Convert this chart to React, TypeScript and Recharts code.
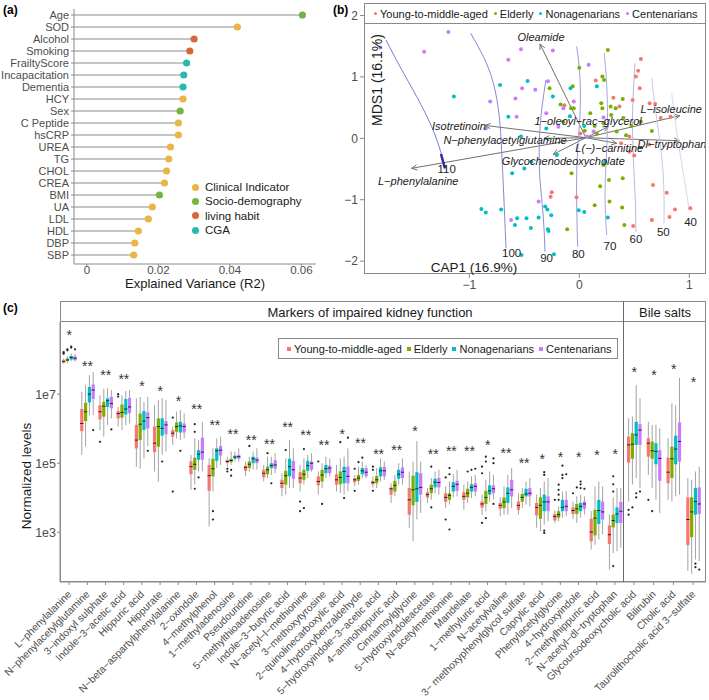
import React from 'react';
import { ComposedChart, ScatterChart, Scatter, Bar, XAxis, YAxis, ReferenceLine } from 'recharts';

const FONT = '"Liberation Sans", Arial, sans-serif';
const AXIS = '#8a8a8a';
const TICK = '#4d4d4d';

// ---------- (a) explained variance ----------
const factorNames = ['Age', 'SOD', 'Alcohol', 'Smoking', 'FrailtyScore', 'Incapacitation', 'Dementia', 'HCY', 'Sex', 'C Peptide', 'hsCRP', 'UREA', 'TG', 'CHOL', 'CREA', 'BMI', 'UA', 'LDL', 'HDL', 'DBP', 'SBP'];
const factorR2 = [0.0603, 0.0421, 0.03, 0.0288, 0.0279, 0.0271, 0.0269, 0.0269, 0.0261, 0.0256, 0.0256, 0.0234, 0.0229, 0.0223, 0.0217, 0.0203, 0.0183, 0.0172, 0.0144, 0.0134, 0.0131];
const factorTypes = ['Socio-demography', 'Clinical Indicator', 'living habit', 'living habit', 'CGA', 'CGA', 'CGA', 'Clinical Indicator', 'Socio-demography', 'Clinical Indicator', 'Clinical Indicator', 'Clinical Indicator', 'Clinical Indicator', 'Clinical Indicator', 'Clinical Indicator', 'Socio-demography', 'Clinical Indicator', 'Clinical Indicator', 'Clinical Indicator', 'Clinical Indicator', 'Clinical Indicator'];
const typeNames = ['Clinical Indicator', 'Socio-demography', 'living habit', 'CGA'];
const typeColors = ['#E8B547', '#73B443', '#D4683C', '#27BAB0'];
const R2_MIN = -0.0036;

// ---------- (b) CAP ordination ----------
const ageGroups = ['Young-to-middle-aged', 'Elderly', 'Nonagenarians', 'Centenarians'];
const groupColors = ['#F8766D', '#7CAE00', '#00BFC4', '#C77CFF'];

const mdsYoung = [[-0.135, 0.54], [0.15, 0.94], [0.31, 0.66], [0.365, 0.52], [0.485, 0.625], [0.55, 0.815], [0.535, 1.1], [0.515, 1.005], [0.56, 1.29], [0.64, 0.57], [0.69, 0.56], [0.74, 0.33], [0.83, 0.35], [0.455, 0.03], [0.455, -0.22], [0.5, -0.28], [0.635, -0.1], [0.67, -0.76], [-0.25, -0.88], [-0.26, -0.95], [-0.025, -0.96], [0.49, -1.43], [0.66, -1.33], [0.795, -0.885], [0.82, -1.28], [0.87, -1.16], [1.01, -1.14], [0.01, 0.08], [0.38, -0.08]];
const mdsElderly = [[0.26, 1.44], [0.0, 1.15], [-0.06, 0.85], [-0.27, 0.815], [-0.075, 0.49], [-0.05, 0.49], [0.1, 0.41], [0.21, 1.005], [0.225, 0.95], [0.2, 0.57], [0.21, 0.49], [0.285, 0.52], [0.33, 0.49], [0.395, 0.64], [0.29, 0.38], [0.4, 0.33], [0.22, 0.245], [0.14, 0.2], [0.05, 0.125], [0.16, 0.08], [0.34, 0.11], [0.425, 0.05], [0.475, 0.2], [0.66, 0.12], [0.56, 0.27], [-0.07, -0.57], [0.22, -0.435], [0.19, -0.78], [0.27, -0.68], [0.395, -0.65], [0.14, -1.09], [0.275, -1.03], [0.39, -1.125], [0.41, -1.41], [-0.11, -1.48], [-0.17, 0.55], [-0.145, 0.27]];
const mdsNonagenarian = [[-1.14, 0.68], [-0.72, 0.87], [-0.47, 0.935], [-0.645, 0.35], [-0.53, 0.03], [-0.24, 0.68], [-0.3, 0.16], [-0.08, 0.815], [-0.085, 0.36], [0.045, 0.2], [-0.205, -0.27], [-0.435, -0.38], [-0.61, -0.57], [-0.5, -0.49], [-0.89, -1.15], [-0.85, -1.21], [-0.71, -1.16], [-0.585, -1.41], [-0.565, -1.3], [-0.48, -1.3], [-0.44, -1.46], [-0.37, -1.29], [-0.31, -1.11], [-0.29, -1.16], [-0.285, -1.48], [-0.28, -1.51], [-0.255, -1.255], [-0.23, -1.89], [-0.525, -1.9], [-0.005, -1.17], [0.045, -1.2], [0.26, -1.29], [0.16, 0.85], [0.235, -0.38]];
const mdsCentenarian = [[-1.81, 1.48], [-1.19, 1.73], [-1.41, 1.41], [-0.645, 1.28], [-0.53, 1.45], [-0.24, 1.43], [0.085, 1.2], [-0.81, 0.6], [-0.58, 0.65], [-0.52, 0.815], [-0.4, 0.79], [-0.57, 0.35], [-0.285, 0.93], [-0.05, 0.6], [-0.3, 0.41], [-0.19, 0.19], [0.22, 0.34], [0.13, 0.11], [-0.85, 0.16], [0.07, 0.03], [-0.37, -1.03], [-0.62, -1.33], [-0.145, 0.49]];
const mdsGroups = [mdsYoung, mdsElderly, mdsNonagenarian, mdsCentenarian];

// age surface (ordisurf) isolines
const contourLevels = [110, 100, 90, 80, 70, 60, 50, 40];
const contourPaths = [
  [[-1.757, 1.603], [-1.63, 1.168], [-1.478, 0.679], [-1.342, 0.19], [-1.26, -0.217], [-1.221, -0.489]],
  [[-0.988, 1.712], [-0.872, 1.332], [-0.781, 0.897], [-0.727, 0.353], [-0.706, -0.19], [-0.69, -0.788], [-0.666, -1.793]],
  [[-0.303, 0.951], [-0.342, 0.462], [-0.363, -0.082], [-0.357, -0.679], [-0.327, -1.277], [-0.312, -1.848]],
  [[-0.024, 1.495], [0.006, 1.005], [0.006, 0.353], [-0.018, -0.299], [-0.024, -1.005], [-0.015, -1.766]],
  [[0.228, 1.386], [0.255, 0.625], [0.249, -0.19], [0.234, -0.897], [0.249, -1.576]],
  [[0.506, 1.223], [0.485, 0.462], [0.491, -0.299], [0.509, -1.005], [0.515, -1.522]],
  [[0.658, 0.978], [0.697, 0.408], [0.749, -0.299], [0.77, -0.897], [0.77, -1.386]],
  [[0.84, 0.734], [0.879, 0.19], [0.931, -0.408], [1.0, -1.168]],
];
const contourLabelAt = [[-1.205, -0.5], [-0.615, -1.87], [-0.297, -1.957], [-0.009, -1.886], [0.279, -1.755], [0.515, -1.647], [0.764, -1.522], [1.012, -1.359]];
const contourColors = ['#7b7bd4', '#8585d6', '#8f8fd8', '#9b9bdb', '#a9a9df', '#b7b7e3', '#c7c7e8', '#d7d7ee'];
const contourMark = [[-1.257, -0.255], [-1.221, -0.489]];

// fitted metabolite vectors
const loadingNames = ['Oleamide', 'L−isoleucine', 'Dl−tryptophan', 'Isotretinoin', 'N−phenylacetylglutamine', '1−oleoyl−rac−glycerol', 'L(−)−carnitine', 'Glycochenodeoxycholate', 'L−phenylalanine'];
const loadingTips = [[-0.357, 1.536], [0.913, 0.368], [0.909, -0.039], [-0.857, 0.21], [-0.32, 0.0], [0.264, 0.189], [0.34, -0.081], [-0.236, -0.261], [-1.524, -0.489]];
const loadingLabelAt = [[-0.348, 1.645], [0.836, 0.477], [0.843, -0.098], [-1.094, 0.2], [-0.675, -0.028], [0.08, 0.28], [0.273, -0.158], [-0.145, -0.365], [-1.464, -0.69]];
const ORIGIN = [0.06, 0.01];

// ---------- (c) boxplots, log10 of normalized level: [lo, q1, median, q3, hi] ----------
const kidneyMetabolites = ['L−phenylalanine', 'N−phenylacetylglutamine', '3−indoxyl sulphate', 'Indole−3−acetic acid', 'Hippuric acid', 'Hippurate', 'N−beta−aspartylphenylalanine', '2−oxindole', '4−methylphenol', '1−methyladenosine', 'Pseudouridine', '5−methylthioadenosine', 'Indole−3−butyric acid', 'N−acetyl−l−methionine', '3−methoxytyrosine', '2−quinolinecarboxylic acid', '4−hydroxybenzaldehyde', '5−hydroxyindole−3−acetic acid', '4−aminohippuric acid', 'Cinnamoylglycine', '5−hydroxyindoleacetate', 'N−acetylmethionine', 'Mandelate', '1−methyluric acid', 'N−acetylvaline', '3− methoxyphenylglycol sulfate', 'Caprylic acid', 'Phenylacetylglycine', '4−hydroxyindole', '2−methylhippuric acid', 'N−acetyl−dl−tryptophan'];
const kidneyBoxes = [
  [[7.88, 7.91, 7.95, 7.98, 8.03], [7.9, 7.96, 7.99, 8.03, 8.1], [7.96, 8.0, 8.06, 8.11, 8.18], [7.95, 7.98, 8.04, 8.1, 8.16]],
  [[5.24, 5.93, 6.15, 6.57, 7.07], [5.48, 6.22, 6.49, 6.75, 7.26], [6.39, 6.76, 7.0, 7.21, 7.55], [6.39, 6.86, 7.12, 7.28, 7.64]],
  [[5.95, 6.27, 6.49, 6.68, 6.97], [5.77, 6.35, 6.65, 6.78, 7.16], [6.1, 6.63, 6.81, 6.88, 7.18], [6.3, 6.59, 6.73, 6.92, 7.12]],
  [[6.06, 6.3, 6.44, 6.51, 6.63], [5.96, 6.32, 6.47, 6.7, 6.97], [6.1, 6.41, 6.57, 6.86, 7.09], [6.15, 6.45, 6.63, 6.89, 7.12]],
  [[4.9, 5.43, 5.67, 6.11, 6.88], [4.84, 5.67, 6.13, 6.44, 6.92], [5.14, 5.96, 6.22, 6.51, 6.78], [5.5, 6.01, 6.32, 6.47, 6.92]],
  [[4.76, 5.32, 5.58, 6.06, 6.68], [4.47, 5.48, 6.06, 6.3, 6.83], [5.24, 5.8, 6.01, 6.3, 6.88], [5.34, 5.84, 6.11, 6.22, 6.83]],
  [[5.53, 5.77, 5.87, 5.96, 6.06], [5.72, 5.91, 6.06, 6.18, 6.49], [5.67, 5.89, 6.08, 6.2, 6.54], [5.72, 5.89, 6.06, 6.15, 6.44]],
  [[4.23, 4.68, 4.9, 5.05, 5.24], [4.38, 4.81, 4.97, 5.16, 5.72], [4.76, 5.1, 5.26, 5.38, 5.67], [4.76, 5.1, 5.32, 5.74, 6.2]],
  [[3.17, 4.2, 4.64, 4.95, 5.14], [4.18, 4.62, 4.84, 5.13, 5.43], [4.86, 5.07, 5.36, 5.43, 5.72], [4.95, 5.22, 5.38, 5.5, 5.77]],
  [[4.9, 5.01, 5.05, 5.09, 5.19], [4.95, 5.03, 5.08, 5.13, 5.34], [5.05, 5.13, 5.18, 5.22, 5.34], [5.05, 5.13, 5.19, 5.24, 5.43]],
  [[4.62, 4.78, 4.88, 4.93, 5.05], [4.76, 4.86, 4.97, 5.05, 5.19], [4.81, 5.0, 5.13, 5.19, 5.34], [4.81, 5.0, 5.09, 5.16, 5.43]],
  [[4.47, 4.59, 4.71, 4.81, 4.95], [4.57, 4.68, 4.81, 4.9, 5.19], [4.66, 4.86, 4.93, 5.0, 5.19], [4.71, 4.84, 4.95, 5.08, 5.29]],
  [[4.04, 4.28, 4.42, 4.52, 4.71], [4.09, 4.38, 4.64, 4.78, 5.14], [4.28, 4.62, 4.9, 5.13, 5.67], [4.28, 4.55, 4.81, 5.07, 5.43]],
  [[4.18, 4.42, 4.57, 4.74, 4.95], [4.38, 4.52, 4.68, 4.81, 5.14], [4.57, 4.78, 4.93, 5.07, 5.24], [4.76, 4.81, 5.0, 5.05, 5.29]],
  [[4.09, 4.36, 4.47, 4.62, 4.76], [4.28, 4.47, 4.66, 4.81, 5.0], [4.57, 4.71, 4.84, 4.95, 5.19], [4.62, 4.71, 4.86, 4.93, 5.14]],
  [[4.18, 4.38, 4.52, 4.68, 4.95], [4.13, 4.39, 4.59, 4.76, 5.14], [4.09, 4.42, 4.76, 4.9, 5.19], [4.18, 4.42, 4.62, 4.9, 5.43]],
  [[4.33, 4.45, 4.52, 4.57, 4.66], [4.38, 4.49, 4.57, 4.66, 4.9], [4.57, 4.68, 4.78, 4.86, 5.05], [4.57, 4.62, 4.74, 4.86, 4.95]],
  [[4.3, 4.39, 4.44, 4.49, 4.62], [4.28, 4.42, 4.52, 4.63, 4.86], [4.47, 4.62, 4.78, 4.88, 5.14], [4.52, 4.62, 4.78, 4.9, 5.05]],
  [[3.85, 4.09, 4.26, 4.3, 4.42], [4.04, 4.18, 4.36, 4.49, 4.66], [4.38, 4.55, 4.68, 4.81, 5.0], [4.38, 4.57, 4.74, 4.88, 5.14]],
  [[3.13, 3.51, 3.94, 4.28, 4.76], [2.74, 3.78, 4.23, 4.64, 5.05], [3.37, 3.88, 4.26, 4.74, 5.64], [3.56, 4.09, 4.3, 4.71, 5.05]],
  [[3.85, 4.01, 4.09, 4.16, 4.28], [3.94, 4.13, 4.26, 4.38, 4.57], [4.13, 4.3, 4.45, 4.55, 4.76], [4.09, 4.3, 4.44, 4.57, 4.81]],
  [[3.7, 3.88, 4.01, 4.13, 4.33], [3.8, 3.94, 4.07, 4.13, 4.47], [4.01, 4.18, 4.33, 4.45, 4.68], [4.04, 4.2, 4.39, 4.49, 4.81]],
  [[3.65, 3.94, 4.04, 4.16, 4.38], [3.85, 4.01, 4.13, 4.26, 4.47], [3.99, 4.18, 4.3, 4.39, 4.62], [4.04, 4.18, 4.33, 4.42, 4.66]],
  [[3.51, 3.72, 3.82, 3.89, 4.09], [3.61, 3.82, 4.01, 4.2, 4.52], [3.89, 4.09, 4.2, 4.36, 4.76], [3.95, 4.13, 4.26, 4.36, 4.66]],
  [[3.46, 3.68, 3.78, 3.85, 4.01], [3.51, 3.7, 3.88, 4.01, 4.33], [3.51, 3.85, 4.13, 4.3, 4.66], [3.7, 4.04, 4.23, 4.52, 4.86]],
  [[3.51, 3.65, 3.78, 3.89, 4.13], [3.7, 3.88, 4.01, 4.11, 4.28], [3.8, 4.04, 4.11, 4.26, 4.47], [3.75, 4.04, 4.13, 4.28, 4.57]],
  [[3.13, 3.49, 3.72, 3.85, 4.09], [3.03, 3.39, 3.78, 4.01, 4.28], [3.22, 3.61, 3.88, 4.09, 4.47], [3.32, 3.61, 3.88, 4.04, 4.57]],
  [[3.27, 3.34, 3.46, 3.53, 3.63], [3.32, 3.42, 3.51, 3.61, 3.75], [3.42, 3.61, 3.72, 3.94, 4.18], [3.46, 3.61, 3.75, 3.94, 4.2]],
  [[3.39, 3.53, 3.63, 3.72, 3.89], [3.27, 3.53, 3.68, 3.82, 4.04], [3.42, 3.61, 3.75, 3.85, 4.09], [3.51, 3.68, 3.82, 3.89, 4.04]],
  [[2.5, 2.74, 3.01, 3.39, 3.61], [2.64, 2.91, 3.41, 3.65, 4.33], [2.79, 3.24, 3.63, 3.94, 4.47], [2.94, 3.37, 3.59, 3.89, 4.33]],
  [[1.92, 2.66, 2.93, 3.2, 3.51], [2.4, 3.14, 3.34, 3.51, 4.01], [2.45, 3.27, 3.53, 3.72, 4.28], [2.55, 3.27, 3.61, 3.88, 4.28]],
];
const kidneyOutliers = [
  [[8.17, 8.2, 8.22], [8.27, 8.3], [8.35, 8.38], [8.3]],
  [[], [], [], [5.96]],
  [[5.62], [], [], [5.98]],
  [[6.93, 7.0], [], [], []],
  [[], [], [], [5.36]],
  [[], [], [5.05], []],
  [[6.32, 4.18], [], [5.36], []],
  [[], [6.13, 5.91, 4.26], [4.59], []],
  [[], [3.61, 3.37], [], []],
  [[4.84, 4.76], [4.81, 4.64], [], []],
  [[], [5.5], [], []],
  [[], [5.29], [4.42], []],
  [[], [5.38], [], []],
  [[3.89, 3.61], [3.7, 5.41], [], []],
  [[5.05], [3.82], [], []],
  [[], [5.61], [3.99], [5.74]],
  [[4.84, 4.2], [5.03], [5.16], []],
  [[4.9, 4.81, 4.2], [], [], []],
  [[], [], [], []],
  [[], [], [], []],
  [[], [4.9, 3.72], [], []],
  [[4.59, 3.37], [4.86, 4.68, 3.08], [], []],
  [[], [4.76], [4.81], [4.84]],
  [[4.9, 4.71, 3.27], [5.19, 5.05, 3.41], [], [5.14, 5.0, 3.82]],
  [[], [], [], []],
  [[], [], [], []],
  [[], [], [4.74, 4.66, 3.05, 2.98], []],
  [[3.94], [3.94, 4.09, 4.23, 4.38], [4.66, 4.57, 4.93], [4.68]],
  [[4.13], [4.3], [4.47, 4.39, 4.28], [4.26]],
  [[], [], [], []],
  [[], [4.62, 4.39, 4.18, 2.02], [], []],
];
const kidneyStars = ['*', '**', '**', '**', '*', '*', '*', '**', '**', '**', '**', '**', '**', '**', '**', '*', '**', '**', '**', '*', '**', '**', '**', '*', '**', '**', '*', '*', '*', '*', '*'];
const kidneyStarLevel = [8.8, 7.91, 7.64, 7.52, 7.33, 7.18, 6.89, 6.66, 6.18, 5.94, 5.77, 5.64, 6.15, 5.91, 5.61, 5.93, 5.66, 5.36, 5.48, 6.01, 5.34, 5.45, 5.43, 5.61, 5.38, 5.1, 5.22, 5.26, 5.26, 5.32, 5.34];

const bileMetabolites = ['Glycoursodeoxycholic acid', 'Bilirubin', 'Cholic acid', 'Taurolithocholic acid 3−sulfate'];
const bileBoxes = [
  [[3.89, 5.02, 5.53, 5.77, 6.3], [4.38, 5.13, 5.55, 5.87, 6.35], [4.57, 5.53, 5.82, 6.2, 7.26], [4.28, 5.53, 5.96, 6.13, 6.88]],
  [[4.66, 5.19, 5.58, 5.72, 6.2], [4.28, 5.13, 5.36, 5.63, 6.11], [3.94, 4.97, 5.34, 5.58, 6.11], [3.56, 4.49, 5.14, 5.38, 6.01]],
  [[3.94, 4.42, 4.74, 5.16, 5.72], [3.89, 4.57, 5.13, 5.48, 6.73], [4.04, 4.97, 5.41, 5.8, 6.68], [4.09, 5.05, 5.63, 6.18, 7.47]],
  [[1.88, 2.63, 3.37, 4.01, 4.57], [1.8, 2.86, 3.59, 4.01, 4.52], [2.21, 3.51, 3.89, 4.28, 4.76], [2.16, 3.53, 3.82, 4.3, 4.9]],
];
const bileOutliers = [
  [[3.65, 3.51], [3.72], [4.13, 4.01], [4.18]],
  [[3.94], [3.61], [], []],
  [[], [], [], []],
  [[], [], [2.09, 1.99], [1.92]],
];
const bileStars = ['*', '*', '*', '*'];
const bileStarLevel = [7.74, 7.64, 7.82, 7.45];

const LOG_DOMAIN = [1.56, 9.09];
const BAR_W = 3.2;
const BAR_GAP = 0.6;
const GROUP_W = 4 * BAR_W + 3 * BAR_GAP;

const lolliData = factorNames.map((name, i) => ({ name, span: [R2_MIN, factorR2[i]], type: factorTypes[i] }));
const toPts = (arr: number[][]) => arr.map(([x, y]) => ({ x, y }));
const arrowLabelData = loadingNames.map((label, i) => ({ x: loadingLabelAt[i][0], y: loadingLabelAt[i][1], label }));
const contourLabelData = contourLevels.map((lv, i) => ({ x: contourLabelAt[i][0], y: contourLabelAt[i][1], label: String(lv) }));

const buildRows = (names: string[], boxes: number[][][], outs: number[][][], stars: string[], levels: number[]) =>
  names.map((name, i) => ({
    name,
    boxes: boxes[i],
    outliers: outs[i],
    star: stars[i],
    starLevel: levels[i],
    b0: [boxes[i][0][0], boxes[i][0][4]],
    b1: [boxes[i][1][0], boxes[i][1][4]],
    b2: [boxes[i][2][0], boxes[i][2][4]],
    b3: [boxes[i][3][0], boxes[i][3][4]],
  }));
const kidneyRows = buildRows(kidneyMetabolites, kidneyBoxes, kidneyOutliers, kidneyStars, kidneyStarLevel);
const bileRows = buildRows(bileMetabolites, bileBoxes, bileOutliers, bileStars, bileStarLevel);

const Lollipop = (p: any) => {
  const { x, y, width, height, payload } = p;
  const cy = y + height / 2;
  const color = typeColors[typeNames.indexOf(payload.type)];
  return (
    <g>
      <line x1={x} x2={x + width} y1={cy} y2={cy} stroke="#8c8c8c" strokeWidth={1} />
      <circle cx={x + width} cy={cy} r={3.6} fill={color} />
    </g>
  );
};

const Arrow = (p: any) => {
  const { x1, y1, x2, y2 } = p;
  const ang = Math.atan2(y2 - y1, x2 - x1);
  const L = 6;
  const w = 0.45;
  const ax = x2 - L * Math.cos(ang - w);
  const ay = y2 - L * Math.sin(ang - w);
  const bx = x2 - L * Math.cos(ang + w);
  const by = y2 - L * Math.sin(ang + w);
  return (
    <g>
      <line x1={x1} y1={y1} x2={x2} y2={y2} stroke="#707070" strokeWidth={1} />
      <polyline points={`${ax},${ay} ${x2},${y2} ${bx},${by}`} fill="none" stroke="#707070" strokeWidth={1} />
    </g>
  );
};

const makeBox = (gi: number) => (p: any) => {
  const { x, y, width, height, payload } = p;
  if (!payload || !payload.boxes) return <g />;
  const [lo, q1, med, q3, hi] = payload.boxes[gi];
  const top = Math.min(y, y + height);
  const h = Math.abs(height);
  const py = (v: number) => top + ((hi - v) / (hi - lo)) * h;
  const cx = x + width / 2;
  return (
    <g>
      <line x1={cx} x2={cx} y1={py(hi)} y2={py(lo)} stroke="#a3a3a3" strokeWidth={1} />
      <rect x={x} y={py(q3)} width={width} height={Math.max(py(q1) - py(q3), 1)} fill={groupColors[gi]} />
      <line x1={x} x2={x + width} y1={py(med)} y2={py(med)} stroke="#222" strokeWidth={1} />
      {payload.outliers[gi].map((v: number, k: number) => (
        <circle key={k} cx={cx} cy={py(v)} r={1.1} fill="#222" />
      ))}
      {gi === 0 && (
        <text x={x + GROUP_W / 2} y={py(payload.starLevel) + 8} textAnchor="middle" fontSize={14} fill="#333" fontFamily={FONT}>
          {payload.star}
        </text>
      )}
    </g>
  );
};

const SlantTick = (p: any) => {
  const { x, y, payload } = p;
  const ax = x + 3;
  const ay = y + 8;
  return (
    <text x={ax} y={ay} transform={`rotate(-45 ${ax} ${ay})`} textAnchor="end" fontSize={10.3} fill={TICK} fontFamily={FONT}>
      {payload.value}
    </text>
  );
};

const minusFmt = (v: number) => (v < 0 ? `−${-v}` : `${v}`);

const abs = (left: number, top: number, extra: React.CSSProperties = {}): React.CSSProperties => ({ position: 'absolute', left, top, ...extra });

const BoxPanel = ({ rows, width, left, marginLeft, marginRight, showY, padRight }: any) => (
  <div style={abs(left, 300)}>
    <ComposedChart width={width} height={400} data={rows} margin={{ top: 22, right: marginRight, bottom: 0, left: marginLeft }} barGap={BAR_GAP} barCategoryGap={0}>
      <XAxis dataKey="name" type="category" interval={0} height={118} tick={<SlantTick />} stroke={AXIS} tickSize={3} padding={{ left: 0, right: padRight }} />
      <YAxis
        type="number"
        domain={LOG_DOMAIN}
        ticks={[3, 5, 7]}
        allowDataOverflow
        hide={!showY}
        width={60}
        tickFormatter={(v: number) => `1e${v}`}
        stroke={AXIS}
        tickSize={3}
        tickMargin={1}
        tick={{ fill: TICK, fontSize: 12.5, fontFamily: FONT }}
      />
      {[0, 1, 2, 3].map((g) => (
        <Bar key={g} dataKey={`b${g}`} barSize={BAR_W} shape={makeBox(g)} isAnimationActive={false} />
      ))}
    </ComposedChart>
  </div>
);

export default function App() {
  return (
    <div style={{ position: 'absolute', left: 0, top: 0, width: 709, height: 700, background: '#fff', fontFamily: FONT, overflow: 'hidden' }}>
      {/* (a) */}
      <div style={abs(0, 0)}>
        <ComposedChart layout="vertical" width={330} height={296} data={lolliData} margin={{ top: 9, right: 14, bottom: 2, left: 0 }}>
          <XAxis
            type="number"
            domain={[R2_MIN, 0.0641]}
            ticks={[0, 0.02, 0.04, 0.06]}
            allowDataOverflow
            stroke={AXIS}
            tickSize={2}
            tickMargin={0}
            height={30}
            tick={{ fill: TICK, fontSize: 11.5, fontFamily: FONT }}
            label={{ value: 'Explained Variance (R2)', position: 'insideBottom', offset: 6, fill: '#1a1a1a', fontSize: 13, fontFamily: FONT }}
          />
          <YAxis type="category" dataKey="name" width={74} interval={0} stroke={AXIS} tickSize={3} tickMargin={2} padding={{ top: 0, bottom: 3 }} tick={{ fill: TICK, fontSize: 11, fontFamily: FONT }} />
          <Bar dataKey="span" barSize={2} shape={Lollipop} isAnimationActive={false} />
        </ComposedChart>
      </div>
      <div style={abs(188, 180, { fontSize: 11.5, color: '#1a1a1a', lineHeight: '14.4px' })}>
        {typeNames.map((t, i) => (
          <div key={t} style={{ display: 'flex', alignItems: 'center', height: 14.4 }}>
            <span style={{ width: 7, height: 7, borderRadius: 4, background: typeColors[i], marginLeft: 4, marginRight: 6 }} />
            {t}
          </div>
        ))}
      </div>

      {/* (b) */}
      <div style={abs(330, 0)}>
        <ScatterChart width={379} height={300} margin={{ top: 3, right: 3, bottom: 0, left: 0 }}>
          <XAxis type="number" dataKey="x" domain={[-1.957, 1.152]} ticks={[-1, 0, 1]} allowDataOverflow axisLine={false} stroke={AXIS} tickSize={4} height={26} tickFormatter={minusFmt} tick={{ fill: TICK, fontSize: 12, fontFamily: FONT }} />
          <YAxis type="number" dataKey="y" domain={[-2.21, 2.204]} ticks={[-2, -1, 0, 1, 2]} allowDataOverflow axisLine={false} stroke={AXIS} tickSize={4} width={34} tickFormatter={minusFmt} tick={{ fill: TICK, fontSize: 12, fontFamily: FONT }} />
          {contourPaths.map((path, i) => (
            <Scatter key={`c${i}`} data={toPts(path)} line={{ stroke: contourColors[i], strokeWidth: 1 }} lineJointType="natural" shape={() => <g />} isAnimationActive={false} />
          ))}
          <Scatter data={toPts(contourMark)} line={{ stroke: '#2f2fa0', strokeWidth: 2.5 }} shape={() => <g />} isAnimationActive={false} />
          {mdsGroups.map((g, i) => (
            <Scatter key={`g${i}`} name={ageGroups[i]} data={toPts(g)} isAnimationActive={false} shape={(p: any) => <circle cx={p.cx} cy={p.cy} r={2} fill={groupColors[i]} />} />
          ))}
          {loadingTips.map((t, i) => (
            <ReferenceLine key={`a${i}`} segment={[{ x: ORIGIN[0], y: ORIGIN[1] }, { x: t[0], y: t[1] }]} shape={Arrow} stroke="#707070" />
          ))}
          <Scatter
            data={contourLabelData}
            isAnimationActive={false}
            shape={(p: any) => (
              <text x={p.cx} y={p.cy} textAnchor="middle" dominantBaseline="central" fontSize={11.5} fill="#222" fontFamily={FONT}>
                {p.payload.label}
              </text>
            )}
          />
          <Scatter
            data={arrowLabelData}
            isAnimationActive={false}
            shape={(p: any) => (
              <text x={p.cx} y={p.cy} textAnchor="middle" dominantBaseline="central" fontSize={11} fontStyle="italic" fill="#1a1a1a" fontFamily={FONT}>
                {p.payload.label}
              </text>
            )}
          />
        </ScatterChart>
      </div>
      <div style={abs(364, 3, { width: 342, height: 271, border: '1px solid #8a8a8a', boxSizing: 'border-box', pointerEvents: 'none' })} />
      <div style={abs(364, 3, { width: 342, height: 21, border: '1px solid #8a8a8a', boxSizing: 'border-box', background: '#fff', display: 'flex', alignItems: 'center', paddingLeft: 9, fontSize: 11, color: '#1a1a1a', whiteSpace: 'nowrap' })}>
        {ageGroups.map((g, i) => (
          <span key={g} style={{ display: 'flex', alignItems: 'center', marginRight: 6 }}>
            <span style={{ width: 3, height: 3, borderRadius: 2, background: groupColors[i], marginRight: 3 }} />
            {g}
          </span>
        ))}
      </div>
      <div style={abs(377, 80, { transform: 'translate(-50%, -50%) rotate(-90deg)', fontSize: 14, color: '#1a1a1a', whiteSpace: 'nowrap' })}>MDS1 (16.1%)</div>
      <div style={abs(474, 267, { transform: 'translate(-50%, -50%)', fontSize: 13.5, color: '#1a1a1a', whiteSpace: 'nowrap' })}>CAP1 (16.9%)</div>

      {/* (c) */}
      <BoxPanel rows={kidneyRows} width={624} left={0} marginLeft={0} marginRight={0} showY padRight={0} />
      <BoxPanel rows={bileRows} width={209} left={500} marginLeft={124} marginRight={3} showY={false} padRight={3} />
      <div style={abs(60, 301, { width: 646, height: 281, border: '1px solid #8a8a8a', boxSizing: 'border-box', pointerEvents: 'none' })} />
      <div style={abs(60, 321, { width: 646, height: 1, background: '#8a8a8a' })} />
      <div style={abs(623, 301, { width: 1, height: 281, background: '#6a6a6a' })} />
      <div style={abs(370, 311.5, { transform: 'translate(-50%, -50%)', fontSize: 13, color: '#1a1a1a', whiteSpace: 'nowrap' })}>Markers of impaired kidney function</div>
      <div style={abs(665, 311.5, { transform: 'translate(-50%, -50%)', fontSize: 13, color: '#1a1a1a', whiteSpace: 'nowrap' })}>Bile salts</div>
      <div style={abs(278, 338, { width: 340, height: 21, border: '1px solid #8a8a8a', boxSizing: 'border-box', background: '#fff', display: 'flex', alignItems: 'center', paddingLeft: 8, fontSize: 11, color: '#1a1a1a', whiteSpace: 'nowrap' })}>
        {ageGroups.map((g, i) => (
          <span key={g} style={{ display: 'flex', alignItems: 'center', marginRight: 5 }}>
            <span style={{ width: 4, height: 4, background: groupColors[i], marginRight: 3 }} />
            {g}
          </span>
        ))}
      </div>
      <div style={abs(26, 476, { transform: 'translate(-50%, -50%) rotate(-90deg)', fontSize: 13.5, color: '#1a1a1a', whiteSpace: 'nowrap' })}>Normalized levels</div>

      {/* panel tags */}
      <div style={abs(3, 3, { fontSize: 12, fontWeight: 'bold' })}>(a)</div>
      <div style={abs(333, 3, { fontSize: 12, fontWeight: 'bold' })}>(b)</div>
      <div style={abs(3, 301, { fontSize: 12, fontWeight: 'bold' })}>(c)</div>
    </div>
  );
}
